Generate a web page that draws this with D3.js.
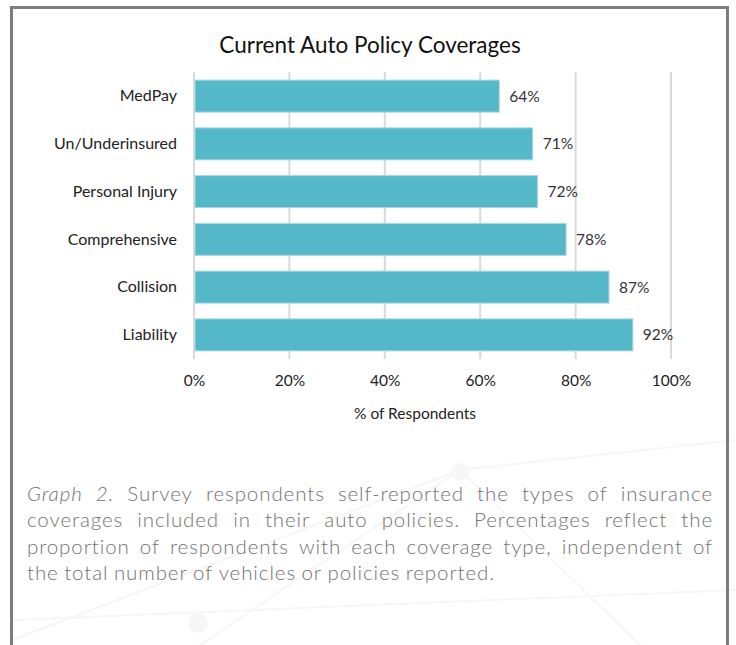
<!DOCTYPE html>
<html>
<head>
<meta charset="utf-8">
<script src="https://cdn.jsdelivr.net/npm/d3@7"></script>
<style>
  body { margin: 0; background: #ffffff; }
  svg { display: block; }
</style>
</head>
<body>
<div id="chart"></div>
<script>
// data
var categories = ["MedPay", "Un/Underinsured", "Personal Injury", "Comprehensive", "Collision", "Liability"];
var values = [64, 71, 72, 78, 87, 92];
var tickValues = [0, 20, 40, 60, 80, 100];
var chartTitle = "Current Auto Policy Coverages";
var axisTitle = "% of Respondents";
var captionLines = [
  ["Graph 2.", "Survey respondents self-reported the types of insurance"],
  ["", "coverages included in their auto policies. Percentages reflect the"],
  ["", "proportion of respondents with each coverage type, independent of"],
  ["", "the total number of vehicles or policies reported."]
];

var width = 736, height = 645;
var chartFont = "Lato, 'Open Sans', sans-serif";

var svg = d3.select("#chart")
            .append("svg")
            .attr("width", width)
            .attr("height", height);

svg.append("rect")
   .attr("width", width)
   .attr("height", height)
   .attr("fill", "#ffffff");

// faint background network lines
var deco = svg.append("g").attr("stroke", "#f6f6f6").attr("stroke-width", 2).attr("fill", "none");
deco.append("path").attr("d", "M12,640 L460,470 L736,440");
deco.append("path").attr("d", "M200,645 L460,470 L640,645");
deco.append("path").attr("d", "M12,620 L736,590");
deco.append("circle").attr("cx", 460).attr("cy", 472).attr("r", 9).attr("fill", "#f7f7f7").attr("stroke", "none");
deco.append("circle").attr("cx", 198).attr("cy", 623).attr("r", 10).attr("fill", "#f7f7f7").attr("stroke", "none");

// frame (open at the bottom)
svg.append("path")
   .attr("d", "M11.5,645 L11.5,7.5 L727.5,7.5 L727.5,645")
   .attr("fill", "none")
   .attr("stroke", "#7d7d7d")
   .attr("stroke-width", 3);

var x = d3.scaleLinear().domain([0, 100]).range([194, 671]);
var y = d3.scaleBand().domain(categories).range([72, 359]).paddingInner(0.33).paddingOuter(0.17);

// gridlines
svg.selectAll("line.grid")
   .data(tickValues)
   .enter()
   .append("line")
   .attr("class", "grid")
   .attr("x1", function(d) { return x(d); })
   .attr("x2", function(d) { return x(d); })
   .attr("y1", 72)
   .attr("y2", 359)
   .attr("stroke", "#d9d9d9")
   .attr("stroke-width", 2);

// bars
svg.selectAll("rect.bar")
   .data(values)
   .enter()
   .append("rect")
   .attr("class", "bar")
   .attr("x", x(0) + 1)
   .attr("y", function(d, i) { return y(categories[i]); })
   .attr("width", function(d) { return x(d) - x(0) - 1; })
   .attr("height", y.bandwidth())
   .attr("fill", "#55b8c8")
   .attr("stroke", "#a9d7df")
   .attr("stroke-width", 1);

// value labels
svg.selectAll("text.val")
   .data(values)
   .enter()
   .append("text")
   .attr("class", "val")
   .attr("x", function(d) { return x(d) + 10; })
   .attr("y", function(d, i) { return y(categories[i]) + y.bandwidth() / 2; })
   .attr("dy", "0.35em")
   .style("font-family", chartFont)
   .style("font-size", "15.5px")
   .style("fill", "#333")
   .text(function(d) { return d + "%"; });

// category labels
var yAxis = svg.append("g")
   .attr("transform", "translate(" + (x(0) - 17) + ",0)")
   .call(d3.axisLeft(y).tickSize(0).tickPadding(0));
yAxis.select(".domain").remove();
yAxis.selectAll("text")
   .style("font-family", chartFont)
   .style("font-size", "16px")
   .style("fill", "#222");

// x axis tick labels
var xAxis = svg.append("g")
   .attr("transform", "translate(0,372)")
   .call(d3.axisBottom(x).tickValues(tickValues).tickSize(0).tickFormat(function(d) { return d + "%"; }));
xAxis.select(".domain").remove();
xAxis.selectAll("text")
   .style("font-family", chartFont)
   .style("font-size", "15.5px")
   .style("fill", "#222");

svg.append("text")
   .attr("x", 415)
   .attr("y", 414)
   .attr("dy", "0.35em")
   .attr("text-anchor", "middle")
   .style("font-family", chartFont)
   .style("font-size", "15.5px")
   .style("fill", "#222")
   .text(axisTitle);

svg.append("text")
   .attr("x", 370)
   .attr("y", 45)
   .attr("dy", "0.35em")
   .attr("text-anchor", "middle")
   .style("font-family", chartFont)
   .style("font-size", "22.5px")
   .style("fill", "#111")
   .text(chartTitle);

// caption, justified by spreading the words
var capLeft = 27, capRight = 713, capTop = 494, capStep = 26.2;
captionLines.forEach(function(line, li) {
  var words = [];
  line[0].split(" ").filter(function(w) { return w; }).forEach(function(w) { words.push({ t: w, it: true }); });
  line[1].split(" ").forEach(function(w) { words.push({ t: w, it: false }); });
  var g = svg.append("g");
  var nodes = words.map(function(w) {
    return g.append("text")
      .attr("y", capTop + li * capStep)
      .attr("dy", "0.35em")
      .style("font-family", "Lato, sans-serif")
      .style("font-weight", 300)
      .style("font-style", w.it ? "italic" : "normal")
      .style("font-size", "20.5px")
      .style("letter-spacing", "0.9px")
      .style("fill", "#727272")
      .text(w.t);
  });
  var widths = nodes.map(function(n) { return n.node().getComputedTextLength(); });
  var total = d3.sum(widths);
  var last = li === captionLines.length - 1;
  var gap = last ? 5.5 : (capRight - capLeft - total) / (nodes.length - 1);
  var cx = capLeft;
  nodes.forEach(function(n, i) {
    n.attr("x", cx);
    cx += widths[i] + gap;
  });
});
</script>
</body>
</html>
